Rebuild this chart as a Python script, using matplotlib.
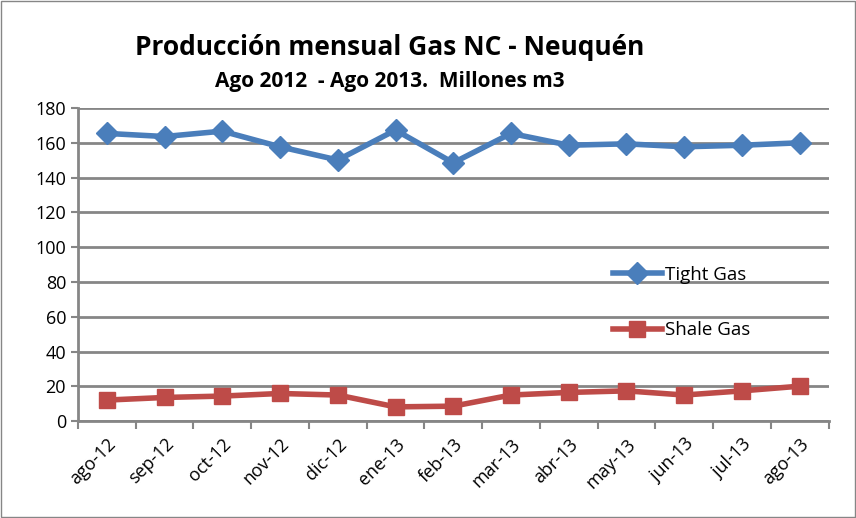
import numpy as np
import matplotlib.pyplot as plt

# data (millones m3)
meses = ["ago-12", "sep-12", "oct-12", "nov-12", "dic-12", "ene-13", "feb-13",
         "mar-13", "abr-13", "may-13", "jun-13", "jul-13", "ago-13"]
tight_gas = [165.4, 163.6, 166.7, 157.7, 150.1, 167.3, 148.5,
             165.4, 158.6, 159.4, 157.7, 158.6, 160.0]
shale_gas = [12.1, 13.6, 14.4, 15.9, 15.0, 8.2, 8.6,
             15.0, 16.5, 17.4, 15.0, 17.4, 20.1]

plt.rcParams["font.family"] = ["Open Sans", "DejaVu Sans"]

fig = plt.figure(figsize=(8.56, 5.18), dpi=100)
ax = fig.add_axes([0.091, 0.187, 0.877, 0.6045])

x = np.arange(len(meses))
ax.plot(x, tight_gas, color='#4A7EBB', lw=4, marker='D', ms=11,
        label="Tight Gas", zorder=3)
ax.plot(x, shale_gas, color='#BE4B48', lw=4, marker='s', ms=12,
        label="Shale Gas", zorder=3)

ax.set_xlim(-0.5, len(meses) - 0.5)
ax.set_ylim(0, 180)
ax.set_yticks(np.arange(0, 181, 20))
ax.set_xticks(x)
ax.set_xticklabels(meses, rotation=45, ha='right', rotation_mode='anchor', fontsize=13)
ax.tick_params(axis='y', labelsize=13, length=5, color='#868686', width=1.5)
ax.tick_params(axis='x', length=5, color='#868686', width=1.5, pad=10)
ax.set_xticks(np.arange(-0.5, len(meses)), minor=True)
ax.tick_params(axis='x', which='minor', length=6, color='#868686', width=1.5)
ax.tick_params(axis='x', which='major', length=0)

ax.grid(axis='y', color='#868686', lw=2)
ax.set_axisbelow(True)
for s in ['top', 'right']:
    ax.spines[s].set_visible(False)
ax.spines['left'].set_color('#868686')
ax.spines['left'].set_linewidth(2)
ax.spines['bottom'].set_color('#868686')
ax.spines['bottom'].set_linewidth(2)

ax.legend(loc='center left', bbox_to_anchor=(0.69, 0.379), frameon=False,
          fontsize=13.5, labelspacing=2.0, handlelength=2.6, handletextpad=0.2)

fig.text(0.455, 0.909, "Producción mensual Gas NC - Neuquén", ha='center', va='center',
         fontsize=19, fontweight='bold')
fig.text(0.455, 0.842, "Ago 2012  - Ago 2013.  Millones m3", ha='center', va='center',
         fontsize=15, fontweight='bold')

fig.patches.append(plt.Rectangle((0.001, 0.001), 0.998, 0.998, transform=fig.transFigure,
                                 fill=False, edgecolor='#868686', lw=1))

fig.savefig("out.png", dpi=100)
